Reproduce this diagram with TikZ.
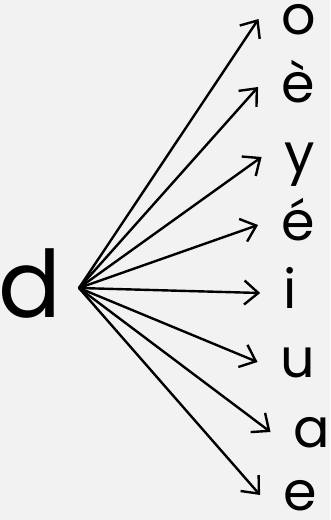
\documentclass[tikz,border=0pt]{standalone}
\usepackage{fontspec}
\setmainfont{Poppins}
\usetikzlibrary{arrows.meta}
\definecolor{paper}{HTML}{F2F2F2}
\definecolor{ink}{HTML}{000000}

\begin{document}
\begin{tikzpicture}[
  x=1pt, y=-1pt, line width=2.4pt, draw=ink, text=ink,
  fan/.style={draw=ink, line width=2.4pt, -{Straight Barb[length=14pt,width=24pt]}},
  sound/.style={anchor=base, font=\fontsize{54}{60}\selectfont,
    text height=30pt, text depth=0pt, inner ysep=0pt, inner xsep=22pt},
]
  % Canvas, same size as the reference.
  \fill[paper] (0,0) rectangle (330,520);
  \useasboundingbox (0,0) rectangle (330,520);

  % The consonant and the point the arrows leave from.
  \node[anchor=base, font=\fontsize{93}{100}\selectfont, inner sep=0pt] (d) at (30,317) {d};
  \coordinate (hub) at (79,288);

  % The vowels, top to bottom.
  \node[sound] (o)    at (299,34)  {o};
  \node[sound] (egr)  at (298,102) {è};
  \node[sound] (y)    at (300,172) {y};
  \node[sound] (eacu) at (298,240) {é};
  \node[sound] (i)    at (290,308) {i};
  \node[sound] (u)    at (298,377) {u};
  \node[sound] (a)    at (312,447) {a};
  \node[sound] (e)    at (300,510) {e};

  % One arrow per vowel.
  \foreach \v in {o,egr,y,eacu,i,u,a,e}
    \draw[fan] (hub) -- (\v.west);
\end{tikzpicture}
\end{document}
